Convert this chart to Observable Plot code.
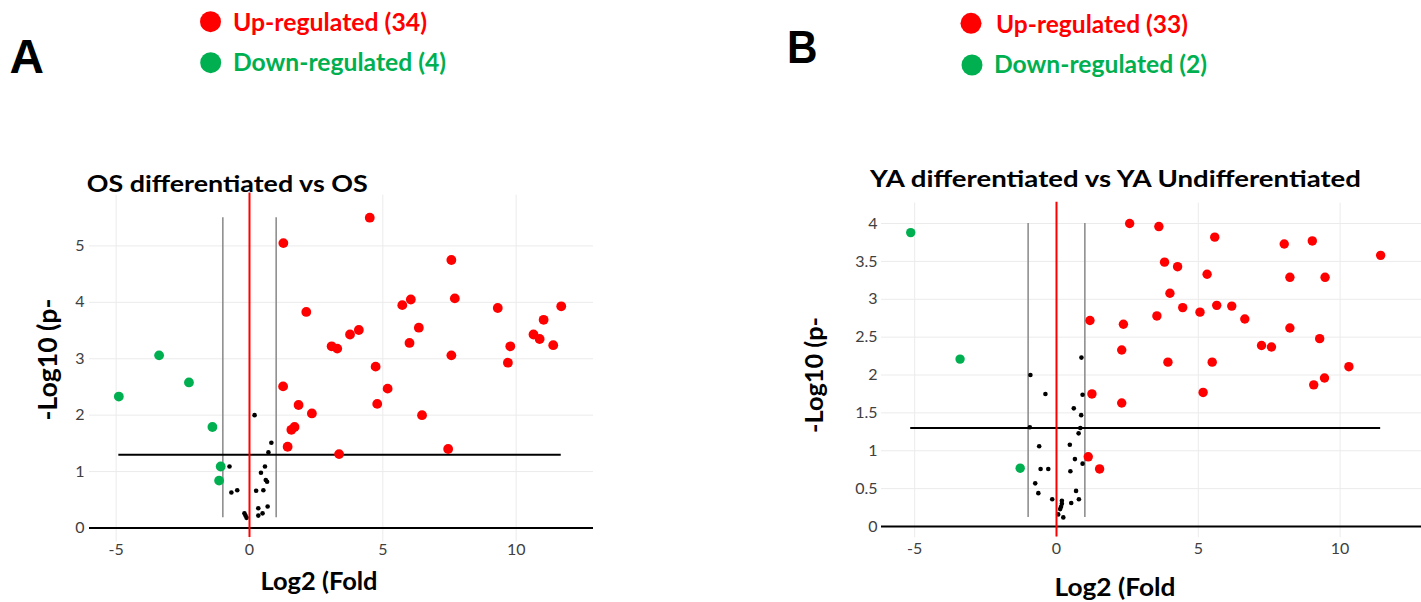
<!DOCTYPE html>
<html>
<head>
<meta charset="utf-8">
<script src="https://cdn.jsdelivr.net/npm/d3@7"></script>
<script src="https://cdn.jsdelivr.net/npm/@observablehq/plot@0.6"></script>
<style>
  html, body { margin: 0; padding: 0; background: #fff; }
  #page { position: relative; width: 1421px; height: 602px; overflow: hidden; background: #fff; }
  .panel { position: absolute; top: 0; }
  #overlay { position: absolute; left: 0; top: 0; pointer-events: none; }
</style>
</head>
<body>
<div id="page">
  <div id="panelA" class="panel" style="left:0px;width:600px;"></div>
  <div id="panelB" class="panel" style="left:790px;width:631px;"></div>
</div>
<script>
// ---------- Panel A: OS differentiated vs OS ----------
const osUpX = [4.51, 1.27, 7.57, 2.13, 5.73, 6.05, 7.70, 9.31, 11.69, 11.03, 6.35, 4.10, 3.77, 10.65, 10.88, 3.08, 3.29, 6.00, 9.78, 11.39, 7.57, 9.69, 4.73, 5.18, 1.26, 4.79, 1.84, 2.34, 6.47, 1.69, 1.57, 1.43, 3.36, 7.45];
const osUpY = [5.50, 5.05, 4.75, 3.83, 3.95, 4.05, 4.07, 3.90, 3.93, 3.69, 3.55, 3.51, 3.43, 3.43, 3.35, 3.22, 3.18, 3.28, 3.22, 3.24, 3.06, 2.93, 2.86, 2.47, 2.51, 2.20, 2.18, 2.03, 2.00, 1.79, 1.74, 1.44, 1.31, 1.40];
const osDownX = [-4.90, -3.39, -2.27, -1.39, -1.08, -1.14];
const osDownY = [2.33, 3.06, 2.58, 1.79, 1.09, 0.84];
const osNsX = [0.19, 0.82, 0.71, -0.75, 0.58, 0.43, 0.61, 0.66, -0.68, -0.46, 0.25, 0.52, 0.33, 0.68, 0.49, 0.33, -0.19, -0.15, -0.11];
const osNsY = [2.00, 1.51, 1.34, 1.09, 1.09, 0.98, 0.85, 0.82, 0.63, 0.67, 0.66, 0.67, 0.35, 0.38, 0.26, 0.22, 0.26, 0.22, 0.18];
const osXTicks = [-5, 0, 5, 10];
const osYTicks = [0, 1, 2, 3, 4, 5];

// ---------- Panel B: YA differentiated vs YA Undifferentiated ----------
const yaUpX = [2.58, 3.61, 5.58, 8.03, 9.02, 11.43, 3.81, 4.27, 5.31, 8.23, 9.47, 4.00, 4.45, 5.65, 6.18, 3.54, 5.06, 6.64, 1.18, 2.36, 8.23, 7.23, 7.58, 9.28, 2.30, 3.93, 5.49, 10.31, 9.45, 9.07, 1.25, 5.17, 2.30, 1.12, 1.52];
const yaUpY = [4.00, 3.96, 3.82, 3.73, 3.77, 3.58, 3.49, 3.43, 3.33, 3.29, 3.29, 3.08, 2.89, 2.92, 2.91, 2.78, 2.83, 2.74, 2.72, 2.67, 2.62, 2.39, 2.37, 2.48, 2.33, 2.17, 2.17, 2.11, 1.96, 1.87, 1.75, 1.77, 1.63, 0.92, 0.76];
const yaDownX = [-5.14, -3.40, -1.28];
const yaDownY = [3.88, 2.21, 0.77];
const yaNsX = [-0.92, -0.39, 0.92, 0.61, 0.87, -0.94, 0.84, 0.78, -0.61, 0.47, 0.65, 0.92, -0.56, -0.29, 0.49, -0.75, -0.64, 0.69, -0.15, 0.79, 0.52, 0.19, 0.19, 0.16, 0.13, 0.06, 0.24, 0.88];
const yaNsY = [2.00, 1.75, 1.74, 1.56, 1.47, 1.31, 1.30, 1.23, 1.06, 1.08, 0.89, 0.83, 0.76, 0.76, 0.73, 0.57, 0.44, 0.47, 0.36, 0.36, 0.31, 0.34, 0.30, 0.26, 0.23, 0.16, 0.12, 2.23];
const yaXTicks = [-5, 0, 5, 10];
const yaYTicks = [0, 0.5, 1, 1.5, 2, 2.5, 3, 3.5, 4];

// Thresholds
const fcCut = [-1, 1];
const pCut = 1.3;

const RED = "#ff0000", GREEN = "#00b050";

const toRows = (xs, ys) => xs.map((x, i) => ({x, y: ys[i]}));

function volcano({up, down, ns, xTicks, yTicks, xDomain, yDomain, width, height, margins, bigR, gridTop, gridBottom, redTop, redBottom, yPad}) {
  const all = up.concat(down, ns);
  const [xmin, xmax] = d3.extent(all, d => d.x);
  const [ymin, ymax] = d3.extent(all, d => d.y);
  return Plot.plot({
    width, height,
    marginLeft: margins[0], marginRight: margins[1], marginTop: margins[2], marginBottom: margins[3],
    style: {fontFamily: "Lato, 'Open Sans', sans-serif", fontSize: "16px", color: "#404040", background: "transparent", overflow: "visible"},
    x: {domain: xDomain, ticks: xTicks, tickFormat: d => String(d), tickSize: 0, tickPadding: 16, label: null},
    y: {domain: yDomain, ticks: yTicks, tickFormat: d => String(d), tickSize: 0, tickPadding: yPad, label: null},
    marks: [
      Plot.ruleY(yTicks, {stroke: "#ebebeb", strokeWidth: 1}),
      Plot.ruleX(xTicks, {y1: gridBottom, y2: gridTop, stroke: "#ebebeb", strokeWidth: 1}),
      Plot.ruleY([0], {stroke: "#000", strokeWidth: 2}),
      Plot.ruleX(fcCut, {y1: ymin, y2: ymax, stroke: "#8f8f8f", strokeWidth: 1.6}),
      Plot.ruleY([pCut], {x1: xmin, x2: xmax, stroke: "#000", strokeWidth: 2}),
      Plot.dot(ns, {x: "x", y: "y", r: 2.3, fill: "#000", stroke: "none"}),
      Plot.dot(down, {x: "x", y: "y", r: bigR, fill: GREEN, stroke: "none"}),
      Plot.dot(up, {x: "x", y: "y", r: bigR, fill: RED, stroke: "none"}),
      Plot.ruleX([0], {y1: redBottom, y2: redTop, stroke: RED, strokeWidth: 2})
    ]
  });
}

const plotA = volcano({
  up: toRows(osUpX, osUpY), down: toRows(osDownX, osDownY), ns: toRows(osNsX, osNsY),
  xTicks: osXTicks, yTicks: osYTicks,
  xDomain: [-6.0, 12.9], yDomain: [0, 6],
  width: 600, height: 602, margins: [89, 7, 189, 74.5],
  bigR: 4.9, gridTop: 5.9, gridBottom: -0.25, redTop: 5.94, redBottom: -0.17, yPad: 5
});
document.getElementById("panelA").appendChild(plotA);

const plotB = volcano({
  up: toRows(yaUpX, yaUpY), down: toRows(yaDownX, yaDownY), ns: toRows(yaNsX, yaNsY),
  xTicks: yaXTicks, yTicks: yaYTicks,
  xDomain: [-6.17, 12.87], yDomain: [0, 4.3],
  width: 631, height: 602, margins: [91, 0, 200.3, 76],
  bigR: 4.7, gridTop: 4.27, gridBottom: -0.15, redTop: 4.28, redBottom: -0.14, yPad: 4
});
document.getElementById("panelB").appendChild(plotB);

// ---------- Overlay: panel letters, legends, titles, axis titles ----------
const overlay = d3.select("#page").append("svg")
  .attr("id", "overlay").attr("width", 1421).attr("height", 602);

const FONT = "Lato, 'Open Sans', sans-serif";
function txt({t, x, y, len, size, fill = "#000", weight = 700, family = FONT, anchor = "start", rotate = 0}) {
  const g = overlay.append("g").attr("transform", `translate(${x},${y}) rotate(${rotate})`);
  g.append("text")
    .attr("text-anchor", anchor)
    .attr("font-family", family)
    .attr("font-size", size)
    .attr("font-weight", weight)
    .attr("fill", fill)
    .attr("textLength", len)
    .attr("lengthAdjust", "spacingAndGlyphs")
    .text(t);
}
function dotLegend(cx, cy, color) {
  overlay.append("circle").attr("cx", cx).attr("cy", cy).attr("r", 10.5).attr("fill", color);
}

// Panel letters
txt({t: "A", x: 9.5, y: 72.7, len: 34.5, size: 48, family: "'Liberation Sans', Arial, sans-serif"});
txt({t: "B", x: 787, y: 62.7, len: 30.5, size: 46, family: "'Liberation Sans', Arial, sans-serif"});

// Legends
dotLegend(210.5, 21.7, RED);
txt({t: "Up-regulated (34)", x: 233, y: 30.7, len: 194, size: 24, fill: RED});
dotLegend(210.7, 62.7, GREEN);
txt({t: "Down-regulated (4)", x: 233, y: 71, len: 213, size: 24, fill: GREEN});

dotLegend(971, 23.3, RED);
txt({t: "Up-regulated (33)", x: 996, y: 33.3, len: 192, size: 24, fill: RED});
dotLegend(972, 65, GREEN);
txt({t: "Down-regulated (2)", x: 994, y: 73.3, len: 213, size: 24, fill: GREEN});

// Titles
txt({t: "OS differentiated vs OS", x: 86.7, y: 192.3, len: 281, size: 23});
txt({t: "YA differentiated vs YA Undifferentiated", x: 870, y: 187.2, len: 491, size: 23});

// Axis titles
txt({t: "-Log10 (p-", x: 57, y: 359.6, len: 122, size: 26, anchor: "middle", rotate: -90});
txt({t: "-Log10 (p-", x: 823, y: 375, len: 116, size: 25, anchor: "middle", rotate: -90});
txt({t: "Log2 (Fold", x: 319, y: 590, len: 117, size: 25, anchor: "middle"});
txt({t: "Log2 (Fold", x: 1115, y: 596, len: 121, size: 25, anchor: "middle"});
</script>
</body>
</html>
